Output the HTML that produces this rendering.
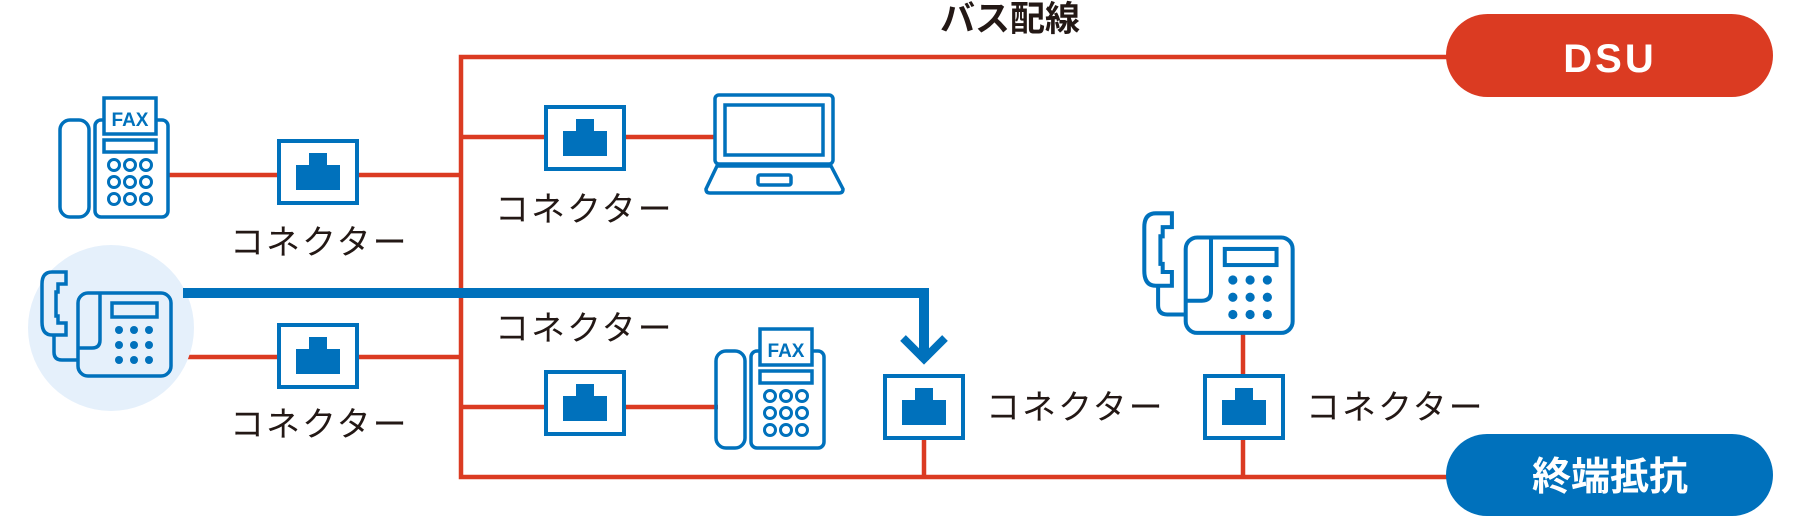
<!DOCTYPE html>
<html><head><meta charset="utf-8"><style>
html,body{margin:0;padding:0;background:#fff;overflow:hidden;}
svg{display:block;}
.lbl{font-family:"Liberation Sans","Noto Sans CJK JP",sans-serif;font-size:34px;fill:#231815;letter-spacing:2px;}
</style></head><body>
<svg width="1800" height="516" viewBox="0 0 1800 516" xmlns="http://www.w3.org/2000/svg">
<defs>
<g id="conn">
<rect x="2" y="2" width="78" height="62" fill="#fff" stroke="#0071bc" stroke-width="4"/>
<rect x="19" y="26" width="44" height="25" fill="#0071bc"/>
<rect x="32" y="14" width="18" height="13" fill="#0071bc"/>
</g>
<g id="fax">
<rect x="2" y="22" width="29" height="97" rx="10" fill="none" stroke="#0071bc" stroke-width="3.5"/>
<rect x="37" y="22" width="73" height="97" rx="6" fill="none" stroke="#0071bc" stroke-width="3.5"/>
<rect x="46" y="0" width="52" height="36" fill="#fff" stroke="#0071bc" stroke-width="3.5"/>
<text x="72" y="28" text-anchor="middle" font-family="Liberation Sans,sans-serif" font-weight="bold" font-size="19" fill="#0071bc">FAX</text>
<rect x="46" y="42" width="52" height="12" fill="none" stroke="#0071bc" stroke-width="3.5"/>
<g fill="none" stroke="#0071bc" stroke-width="3">
<circle cx="56" cy="67" r="5.5"/><circle cx="72" cy="67" r="5.5"/><circle cx="88" cy="67" r="5.5"/>
<circle cx="56" cy="84" r="5.5"/><circle cx="72" cy="84" r="5.5"/><circle cx="88" cy="84" r="5.5"/>
<circle cx="56" cy="101" r="5.5"/><circle cx="72" cy="101" r="5.5"/><circle cx="88" cy="101" r="5.5"/>
</g>
</g>
<g id="phone">
<path d="M26 2 H12 Q2 2 2 14 V52 Q2 65 12 65 H26 V53 H18 V46 H16 V22 H18 V14 H26 Z" fill="none" stroke="#0071bc" stroke-width="3.5"/>
<path d="M14 65 V82 Q14 90 22 90 H37" fill="none" stroke="#0071bc" stroke-width="3.5"/>
<rect x="38" y="23" width="93" height="83" rx="10" fill="none" stroke="#0071bc" stroke-width="3.5"/>
<path d="M60 23 V70 Q60 78 52 78 H38" fill="none" stroke="#0071bc" stroke-width="3.5"/>
<rect x="72" y="33" width="45" height="14" fill="none" stroke="#0071bc" stroke-width="3.5"/>
<g fill="#0071bc">
<circle cx="79" cy="60" r="4"/><circle cx="94" cy="60" r="4"/><circle cx="109" cy="60" r="4"/>
<circle cx="79" cy="75" r="4"/><circle cx="94" cy="75" r="4"/><circle cx="109" cy="75" r="4"/>
<circle cx="79" cy="90" r="4"/><circle cx="94" cy="90" r="4"/><circle cx="109" cy="90" r="4"/>
</g>
</g>
</defs>

<text x="1010" y="31" text-anchor="middle" font-family="Liberation Sans,'Noto Sans CJK JP',sans-serif" font-weight="bold" font-size="35" fill="#231815">バス配線</text>

<g stroke="#db3b22" stroke-width="4.5" fill="none">
<path d="M1450 57 H461 V477 H1450"/>
<path d="M168 175 H459"/>
<path d="M168 357 H459"/>
<path d="M459 137 H716"/>
<path d="M459 407 H718"/>
<path d="M924 440 V477"/>
<path d="M1243 331 V477"/>
</g>

<rect x="1446" y="14" width="327" height="83" rx="41.5" fill="#db3b22"/>
<text x="1610" y="72" text-anchor="middle" font-family="Liberation Sans,sans-serif" font-weight="bold" font-size="40" fill="#fff" letter-spacing="3">DSU</text>
<rect x="1446" y="434" width="327" height="82" rx="41" fill="#0071bc"/>
<text x="1610" y="490" text-anchor="middle" font-family="Liberation Sans,'Noto Sans CJK JP',sans-serif" font-weight="bold" font-size="39" fill="#fff">終端抵抗</text>

<circle cx="111" cy="328" r="83" fill="#e5f0fb"/>
<use href="#phone" x="40" y="270"/>

<path d="M183 293 H924 V360" fill="none" stroke="#0071bc" stroke-width="10"/>
<path d="M903 338 L924 359 L945 338" fill="none" stroke="#0071bc" stroke-width="8"/>

<use href="#fax" x="58" y="98"/>
<use href="#fax" x="714" y="329"/>
<g transform="translate(1142,211) scale(1.15)"><use href="#phone"/></g>

<g fill="none" stroke="#0071bc" stroke-width="3.5">
<rect x="715" y="95" width="118" height="69" rx="4"/>
<rect x="725" y="105" width="98" height="50"/>
<path d="M717 166 H831 L843 189 Q843 193 839 193 H710 Q706 193 706 189 Z"/>
<rect x="758" y="175" width="33" height="10" rx="2"/>
</g>

<use href="#conn" x="277" y="139"/>
<use href="#conn" x="277" y="323"/>
<use href="#conn" x="544" y="105"/>
<use href="#conn" x="544" y="370"/>
<use href="#conn" x="883" y="374"/>
<use href="#conn" x="1203" y="374"/>

<text class="lbl" x="230" y="254">コネクター</text>
<text class="lbl" x="230" y="436">コネクター</text>
<text class="lbl" x="495" y="221">コネクター</text>
<text class="lbl" x="495" y="340">コネクター</text>
<text class="lbl" x="986" y="419">コネクター</text>
<text class="lbl" x="1306" y="419">コネクター</text>
</svg>
</body></html>
